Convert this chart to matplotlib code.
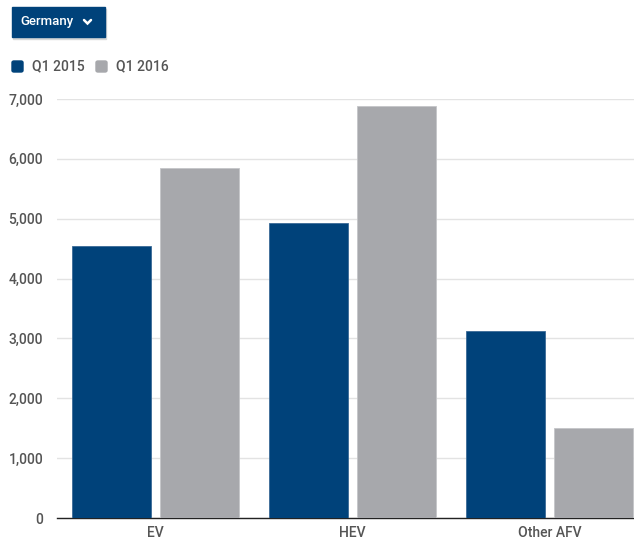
import numpy as np
import matplotlib.pyplot as plt
from matplotlib.patches import FancyBboxPatch, Rectangle
from matplotlib.lines import Line2D

plt.rcParams['font.family'] = ['Roboto', 'DejaVu Sans']

# data
categories = ['EV', 'HEV', 'Other AFV']
q1_2015 = [4540, 4930, 3120]
q1_2016 = [5850, 6880, 1500]
series_names = ['Q1 2015', 'Q1 2016']
y_ticks = [0, 1000, 2000, 3000, 4000, 5000, 6000, 7000]

blue = '#00427a'
grey = '#a7a8ac'
text_col = '#555555'

W, H = 634, 540
fig = plt.figure(figsize=(W / 100, H / 100), dpi=100)
ax = fig.add_axes([57 / W, 22 / H, (W - 57) / W, 419 / H])

x = np.arange(len(categories))
bw = 0.40
off = 0.223
ax.bar(x - off, q1_2015, bw, color=blue, edgecolor='#3a6a96', linewidth=0.6, zorder=3)
ax.bar(x + off, q1_2016, bw, color=grey, edgecolor='#c4c5c8', linewidth=0.6, zorder=3)

ax.set_xlim(-0.5, 2.429)
ax.set_ylim(0, 7000)
ax.set_yticks(y_ticks)
ax.set_yticklabels([f'{v:,}' for v in y_ticks])
ax.set_xticks(x)
ax.set_xticklabels(categories)
ax.grid(axis='y', color='#e3e3e3', linewidth=1, zorder=0)
for s in ['top', 'right', 'left']:
    ax.spines[s].set_visible(False)
ax.spines['bottom'].set_color('#222222')
ax.spines['bottom'].set_linewidth(1)
ax.tick_params(axis='y', length=0, pad=10, labelsize=10, labelcolor=text_col)
ax.tick_params(axis='x', length=0, pad=6, labelsize=10, labelcolor=text_col)
for lab in ax.get_xticklabels() + ax.get_yticklabels():
    lab.set_fontweight('medium')

# dropdown button with a soft shadow
fig.patches.append(Rectangle((13 / W, 1 - 39 / H), 93 / W, 30 / H,
                             transform=fig.transFigure, color='#d8d8d8', zorder=4))
fig.patches.append(Rectangle((12 / W, 1 - 37 / H), 93 / W, 30 / H,
                             transform=fig.transFigure, color=blue, zorder=5))
fig.text(20 / W, 1 - 22 / H, 'Germany', color='white', fontsize=9.5,
         fontweight='medium', va='center', ha='left', zorder=6)
fig.lines.append(Line2D([84 / W, 87.5 / W, 91 / W],
                        [1 - 20 / H, 1 - 23.5 / H, 1 - 20 / H],
                        transform=fig.transFigure, color='white', linewidth=1.8,
                        solid_capstyle='round', solid_joinstyle='miter', zorder=6))

# legend
for i, (name, c) in enumerate(zip(series_names, [blue, grey])):
    x0 = 12 + i * 84
    fig.patches.append(FancyBboxPatch((x0 / W, 1 - 72 / H), 11 / W, 11 / H,
                                      boxstyle='round,pad=0,rounding_size=0.003',
                                      transform=fig.transFigure, color=c))
    fig.text((x0 + 20) / W, 1 - 66 / H, name, color=text_col, fontsize=10,
             fontweight='medium', va='center', ha='left')

fig.savefig('out.png', dpi=100)
